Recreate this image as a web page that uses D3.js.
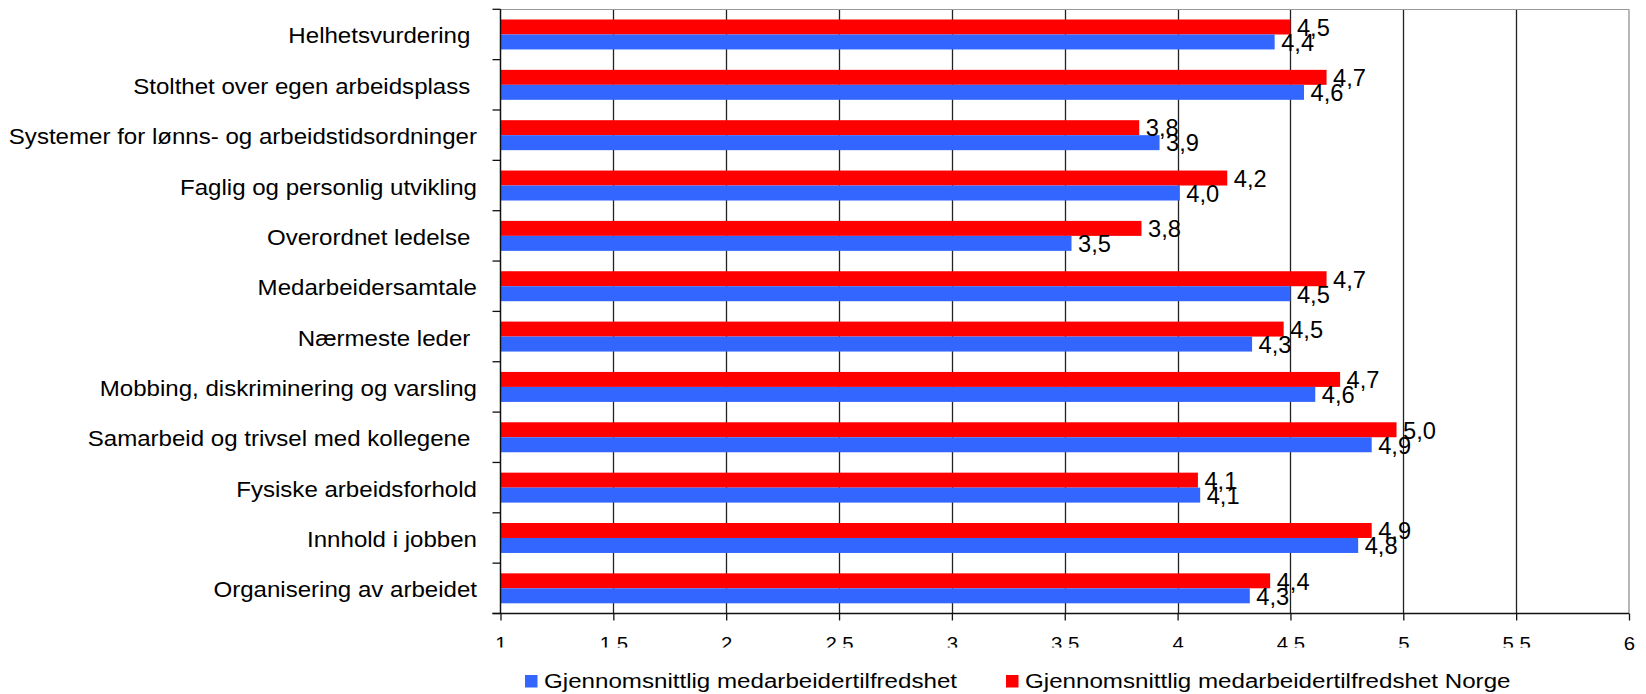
<!DOCTYPE html>
<html>
<head>
<meta charset="utf-8">
<script src="https://cdn.jsdelivr.net/npm/d3@7"></script>
<style>
  html, body { margin: 0; padding: 0; background: #fff; }
  svg text { font-family: "Liberation Sans", Arial, sans-serif; fill: #000; white-space: pre; }
</style>
</head>
<body>
<svg id="chart" width="1646" height="694"></svg>
<script>
// ---- data ----
const categories = [
  "Helhetsvurdering ",
  "Stolthet over egen arbeidsplass ",
  "Systemer for lønns- og arbeidstidsordninger",
  "Faglig og personlig utvikling",
  "Overordnet ledelse ",
  "Medarbeidersamtale",
  "Nærmeste leder ",
  "Mobbing, diskriminering og varsling",
  "Samarbeid og trivsel med kollegene ",
  "Fysiske arbeidsforhold",
  "Innhold i jobben",
  "Organisering av arbeidet"
];
const localValues = [4.43, 4.56, 3.92, 4.01, 3.53, 4.50, 4.33, 4.61, 4.86, 4.10, 4.80, 4.32];
const norgeValues = [4.50, 4.66, 3.83, 4.22, 3.84, 4.66, 4.47, 4.72, 4.97, 4.09, 4.86, 4.41];
const seriesNames = ["Gjennomsnittlig medarbeidertilfredshet", "Gjennomsnittlig medarbeidertilfredshet Norge"];
const tickValues = [1, 1.5, 2, 2.5, 3, 3.5, 4, 4.5, 5, 5.5, 6];

// ---- layout ----
const plot = { left: 500.5, right: 1629, top: 9.3, bottom: 613.5 };
const colors = { local: "#3366FF", norge: "#FF0000" };

const svg = d3.select("#chart");
const defs = svg.append("defs");

const x = d3.scaleLinear().domain([1, 6]).range([plot.left, plot.right]);
const y = d3.scaleBand().domain(categories).range([plot.top, plot.bottom]).padding(0);
const ySub = d3.scaleBand().domain(["norge", "local"]).range([0, y.bandwidth()]).paddingInner(0).paddingOuter(0.68);

const rows = categories.map((c, i) => ({ cat: c, local: localValues[i], norge: norgeValues[i] }));
const fmt = v => d3.format(".1f")(v).replace(".", ",");

// gridlines
svg.append("g").selectAll("line")
  .data(tickValues.filter(t => t > 1 && t < 6))
  .join("line")
  .attr("x1", d => Math.round(x(d)) + 0.5).attr("x2", d => Math.round(x(d)) + 0.5)
  .attr("y1", plot.top).attr("y2", plot.bottom)
  .attr("stroke", "#222").attr("stroke-width", 1.3);

// top & right border
svg.append("line").attr("x1", plot.left).attr("x2", plot.right).attr("y1", 9.5).attr("y2", 9.5)
  .attr("stroke", "#999").attr("stroke-width", 1.2);
svg.append("line").attr("x1", plot.right).attr("x2", plot.right).attr("y1", 9.5).attr("y2", plot.bottom)
  .attr("stroke", "#888").attr("stroke-width", 1.2);

// bars
const groups = svg.append("g").selectAll("g.row").data(rows).join("g").attr("class", "row")
  .attr("transform", d => `translate(0,${y(d.cat)})`);

["norge", "local"].forEach(key => {
  groups.append("rect")
    .attr("x", x(1))
    .attr("y", ySub(key))
    .attr("width", d => x(d[key]) - x(1))
    .attr("height", ySub.bandwidth())
    .attr("fill", colors[key]);
});

// value labels
["norge", "local"].forEach(key => {
  groups.append("text")
    .attr("transform", d => `translate(${x(d[key]) + 6.5},${ySub(key) + ySub.bandwidth() / 2 + 8.8}) scale(1.03,1)`)
    .attr("font-size", 23)
    .text(d => fmt(d[key]));
});

// left axis line and ticks at band boundaries
svg.append("line").attr("x1", plot.left).attr("x2", plot.left).attr("y1", plot.top).attr("y2", plot.bottom)
  .attr("stroke", "#111").attr("stroke-width", 1.5);
const boundaries = categories.map(c => y(c)).concat([y(categories[categories.length - 1]) + y.bandwidth()]);
svg.append("g").selectAll("line").data(boundaries).join("line")
  .attr("x1", plot.left - 8).attr("x2", plot.left)
  .attr("y1", d => d).attr("y2", d => d)
  .attr("stroke", "#111").attr("stroke-width", 1.3);

// category labels
svg.append("g").selectAll("text").data(categories).join("text")
  .attr("transform", d => `translate(477,${y(d) + y.bandwidth() / 2 + 9}) scale(1.095,1)`)
  .attr("text-anchor", "end")
  .attr("font-size", 22)
  .text(d => d);

// bottom axis
const xAxis = d3.axisBottom(x).tickValues(tickValues).tickSize(7).tickSizeOuter(0).tickFormat(d => String(d));
const ax = svg.append("g").attr("transform", `translate(0,${plot.bottom})`).call(xAxis);
ax.attr("font-size", null).attr("font-family", null);
ax.select(".domain").attr("stroke", "#111").attr("stroke-width", 1.5)
  .attr("d", `M${plot.left - 8},0H${plot.right}`);
ax.selectAll(".tick line").attr("stroke", "#111").attr("stroke-width", 1.3);
ax.selectAll(".tick text")
  .attr("font-size", 18.5)
  .attr("fill", "#000")
  .attr("y", 0).attr("dy", 0)
  .attr("transform", "translate(0,36.5) scale(1.1,1)");
// the original picture shows every tick label but the last one cut off at the bottom
ax.selectAll(".tick").filter(d => d !== 6).each(function (d) {
  const tick = d3.select(this);
  const cid = "clip-" + String(d).replace(".", "_");
  defs.append("clipPath").attr("id", cid).append("rect")
    .attr("x", -40).attr("y", 0).attr("width", 80).attr("height", 647.5 - plot.bottom);
  const txt = tick.select("text").remove();
  tick.append("g").attr("clip-path", `url(#${cid})`).append(() => txt.node());
});

// legend
const legendItems = [
  { name: seriesNames[0], color: colors.local, sx: 525, tx: 544 },
  { name: seriesNames[1], color: colors.norge, sx: 1006, tx: 1025 }
];
const legend = svg.append("g");
legend.selectAll("rect").data(legendItems).join("rect")
  .attr("x", d => d.sx).attr("y", 675).attr("width", 12.5).attr("height", 12.5)
  .attr("fill", d => d.color);
legend.selectAll("text").data(legendItems).join("text")
  .attr("transform", d => `translate(${d.tx},688) scale(1.15,1)`)
  .attr("font-size", 21)
  .text(d => d.name);
</script>
</body>
</html>
